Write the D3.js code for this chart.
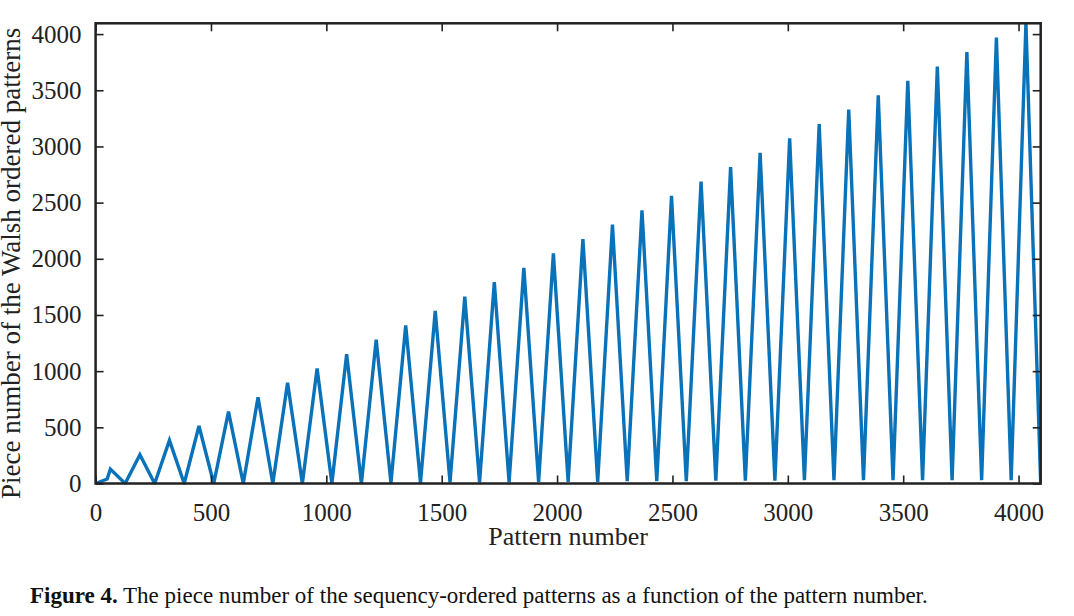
<!DOCTYPE html>
<html><head><meta charset="utf-8">
<script src="https://cdn.jsdelivr.net/npm/d3@7"></script>
<style>body{margin:0;background:#fff}svg{font-family:"Liberation Serif","DejaVu Serif",serif}</style>
</head><body><svg id="c" width="1074" height="616"></svg>
<script>
const patternNumber = [0,50,64,128,192,256,320,384,448,512,576,640,704,768,832,896,960,1024,1088,1152,1216,1280,1344,1408,1472,1536,1600,1664,1728,1792,1856,1920,1984,2048,2112,2176,2240,2304,2368,2432,2496,2560,2624,2688,2752,2816,2880,2944,3008,3072,3136,3200,3264,3328,3392,3456,3520,3584,3648,3712,3776,3840,3904,3968,4032,4096];
const pieceNumber = [0,40,128,0,256,0,384,0,512,0,640,0,768,0,896,0,1024,0,1152,0,1280,5,1408,5,1536,10,1664,10,1792,10,1920,15,2048,15,2176,15,2304,20,2432,20,2560,20,2688,25,2816,25,2944,25,3072,30,3200,30,3328,30,3456,30,3584,30,3712,30,3840,30,3968,30,4096,0];
const xTicks = [0,500,1000,1500,2000,2500,3000,3500,4000];
const yTicks = [0,500,1000,1500,2000,2500,3000,3500,4000];

const svg = d3.select("#c");
const L=95.6,R=1040.7,T=23.3,B=483.5;
const x = d3.scaleLinear().domain([0,4096]).range([L,R]);
const y = d3.scaleLinear().domain([0,4096]).range([B,T]);
const data = patternNumber.map((d,i)=>[d,pieceNumber[i]]);

svg.append("clipPath").attr("id","cl").append("rect").attr("x",L).attr("y",T-1).attr("width",R-L).attr("height",B-T+2);
svg.append("path").datum(data).attr("clip-path","url(#cl)")
  .attr("d",d3.line().x(d=>x(d[0])).y(d=>y(d[1])))
  .attr("fill","none").attr("stroke","#0a72b8").attr("stroke-width",3.4).attr("stroke-linejoin","miter");

const tl = 8;
const fmt = d3.format("d");
const ax = (g)=>{g.selectAll("path.domain").remove();g.selectAll("text").attr("font-size",25).attr("fill","#222").attr("font-family","Liberation Serif, serif");g.selectAll("line").attr("stroke","#222").attr("stroke-width",1.6);};
svg.append("g").attr("transform",`translate(0,${B})`).call(d3.axisBottom(x).tickValues(xTicks).tickFormat(fmt).tickSizeInner(-tl).tickSizeOuter(0).tickPadding(20)).call(ax);
svg.append("g").attr("transform",`translate(0,${T})`).call(d3.axisTop(x).tickValues(xTicks).tickSizeInner(-tl).tickSizeOuter(0).tickFormat("")).call(ax);
svg.append("g").attr("transform",`translate(${L},0)`).call(d3.axisLeft(y).tickValues(yTicks).tickFormat(fmt).tickSizeInner(-tl).tickSizeOuter(0).tickPadding(14)).call(ax);
svg.append("g").attr("transform",`translate(${R},0)`).call(d3.axisRight(y).tickValues(yTicks).tickSizeInner(-tl).tickSizeOuter(0).tickFormat("")).call(ax);
svg.append("rect").attr("x",L).attr("y",T).attr("width",R-L).attr("height",B-T).attr("fill","none").attr("stroke","#222").attr("stroke-width",2.5);

svg.append("text").attr("x",(L+R)/2).attr("y",545).attr("text-anchor","middle").attr("font-size",26).attr("fill","#222").text("Pattern number");
svg.append("text").attr("transform",`translate(20,${(T+B)/2+10}) rotate(-90)`).attr("text-anchor","middle").attr("font-size",27).attr("fill","#222").text("Piece number of the Walsh ordered patterns");
const cap = svg.append("text").attr("x",30).attr("y",603).attr("font-size",23).attr("fill","#111");
cap.append("tspan").attr("font-weight","bold").text("Figure 4.");
cap.append("tspan").text(" The piece number of the sequency-ordered patterns as a function of the pattern number.");
</script></body></html>
